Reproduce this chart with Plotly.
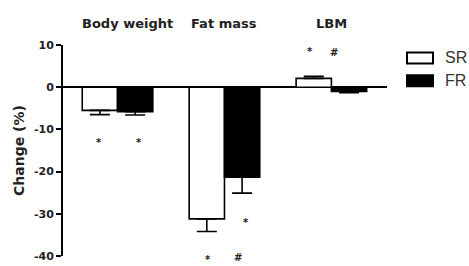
import plotly.graph_objects as go

categories = ["Body weight", "Fat mass", "LBM"]
sr_values = [-5.5, -31.2, 2.1]
sr_errors = [1.0, 3.0, 0.5]
fr_values = [-5.8, -21.3, -1.0]
fr_errors = [0.8, 3.8, 0.3]
y_ticks = [10, 0, -10, -20, -30, -40]

# significance marks: (category index, bar offset, y value, text)
mark_x = [0, 0, 1, 1, 1, 2, 2]
mark_dx = [-0.17, 0.2, -0.15, 0.2, 0.13, -0.2, 0.02]
mark_y = [-13.2, -13.2, -40.9, -32.0, -40.3, 8.5, 8.2]
mark_text = ["*", "*", "*", "*", "#", "*", "#"]

BOLD = "DejaVu Sans, Verdana, sans-serif"
LEG = "Liberation Sans, Arial, sans-serif"
Y_MIN, Y_MAX = -40, 10


def to_paper(v):
    return (v - Y_MIN) / (Y_MAX - Y_MIN)


def one_sided(vals, errs):
    plus = [e if v >= 0 else 0 for v, e in zip(vals, errs)]
    minus = [e if v < 0 else 0 for v, e in zip(vals, errs)]
    return plus, minus


xs = list(range(len(categories)))
sp, sm = one_sided(sr_values, sr_errors)
fp, fm = one_sided(fr_values, fr_errors)

fig = go.Figure()
fig.add_trace(go.Bar(
    x=xs, y=sr_values, name="SR",
    marker=dict(color="white", line=dict(color="black", width=1.6)),
    error_y=dict(type="data", symmetric=False, array=sp, arrayminus=sm,
                 color="black", thickness=1.6, width=10),
    showlegend=False, hoverinfo="skip",
))
fig.add_trace(go.Bar(
    x=xs, y=fr_values, name="FR",
    marker=dict(color="black", line=dict(color="black", width=1.6)),
    error_y=dict(type="data", symmetric=False, array=fp, arrayminus=fm,
                 color="black", thickness=1.6, width=10),
    showlegend=False, hoverinfo="skip",
))

annotations = []
title_dx = [0.09, 0.0, 0.0]
for i, c in enumerate(categories):
    annotations.append(dict(
        x=xs[i] + title_dx[i], y=to_paper(15.1), xref="x", yref="paper",
        xanchor="center", yanchor="middle",
        text="<b>%s</b>" % c,
        showarrow=False, font=dict(family=BOLD, size=13, color="#222"),
    ))
for xi, dx, yv, t in zip(mark_x, mark_dx, mark_y, mark_text):
    annotations.append(dict(
        x=xi + dx, y=to_paper(yv), xref="x", yref="paper",
        xanchor="center", yanchor="middle", text="<b>%s</b>" % t,
        showarrow=False, font=dict(family=BOLD, size=10, color="#222"),
    ))

# legend (drawn manually to match the wide swatches)
legend_items = [("SR", "white"), ("FR", "black")]
shapes = []
for k, (name, fill) in enumerate(legend_items):
    y0 = 52 + k * 23
    shapes.append(dict(
        type="rect", xref="paper", yref="paper",
        x0=(407 - 63) / 324, x1=(433 - 63) / 324,
        y0=1 - (y0 + 11 - 44.5) / 212, y1=1 - (y0 - 44.5) / 212,
        fillcolor=fill, line=dict(color="black", width=2),
    ))
    annotations.append(dict(
        x=(443 - 63) / 324, y=1 - (y0 + 5.5 - 44.5) / 212,
        xref="paper", yref="paper", xanchor="left", yanchor="middle", text=name,
        showarrow=False, font=dict(family=LEG, size=16, color="#333"),
    ))

fig.update_layout(
    width=469, height=266,
    margin=dict(l=63, r=82, t=44.5, b=9.5, autoexpand=False),
    paper_bgcolor="white", plot_bgcolor="white",
    barmode="group", bargap=0.34, bargroupgap=0,
    annotations=annotations, shapes=shapes,
    font=dict(family=BOLD, color="#111"),
    hovermode=False,
)
fig.update_xaxes(range=[-0.51, 2.52], visible=False, showgrid=False, automargin=False)
fig.update_yaxes(
    range=[Y_MIN, Y_MAX], tickvals=y_ticks, ticktext=["<b>%d</b>" % v for v in y_ticks],
    showgrid=False, zeroline=True, zerolinecolor="black", zerolinewidth=1.6,
    showline=True, linecolor="black", linewidth=2, automargin=False,
    ticks="outside", ticklen=5, tickwidth=1.6, tickcolor="black",
    tickfont=dict(family=BOLD, size=11, color="#222"),
    title=dict(text="<b>Change (%)</b>", font=dict(family=BOLD, size=14, color="#222"),
               standoff=6),
)
fig.write_html(
    "out.html",
    config={"displayModeBar": False},
    post_script="document.body.style.margin='0';document.body.style.padding='0';",
)
